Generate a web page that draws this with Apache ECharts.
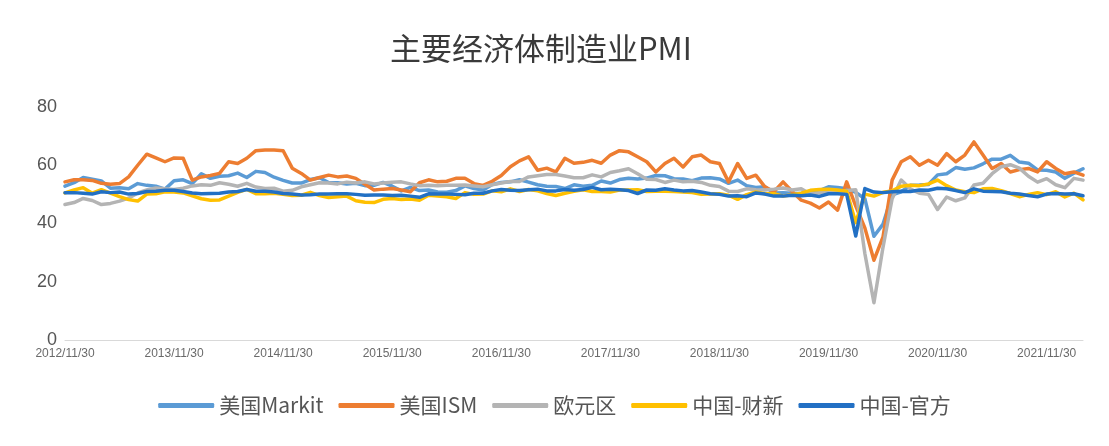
<!DOCTYPE html>
<html>
<head>
<meta charset="utf-8">
<script src="https://cdn.jsdelivr.net/npm/echarts@6/dist/echarts.min.js"></script>
<style>
html,body{margin:0;padding:0;background:#fff;}
#c{width:1109px;height:446px;}
</style>
</head>
<body>
<div id="c"></div>
<script>
// Monthly categories: month-end dates from 2012/11 to 2022/03
const startYear = 2012, startMonth = 11, monthCount = 113;
const categories = [];
for (let k = 0; k < monthCount; k++) {
  const m0 = startMonth - 1 + k;
  const y = startYear + Math.floor(m0 / 12);
  const m = (m0 % 12) + 1;
  const d = new Date(y, m, 0).getDate();
  categories.push(y + '/' + m + '/' + d);
}

const seriesNames = ['美国Markit', '美国ISM', '欧元区', '中国-财新', '中国-官方'];

const usMarkit = [
  52.8, 54.0,
  55.8, 55.2, 54.6, 52.1, 52.3, 51.9, 53.7, 53.1, 52.8, 51.8, 54.7, 55.0,
  53.7, 57.1, 55.5, 56.2, 56.4, 57.3, 55.8, 57.9, 57.5, 55.9, 54.8, 53.9,
  53.9, 55.1, 55.7, 54.1, 54.0, 53.6, 53.8, 53.0, 53.1, 54.1, 52.8, 51.2,
  52.4, 51.3, 51.5, 50.8, 50.7, 51.3, 52.9, 52.0, 51.5, 53.4, 54.1, 54.3,
  55.0, 54.2, 53.3, 52.8, 52.7, 52.0, 53.3, 52.8, 53.1, 54.6, 53.9, 55.1,
  55.5, 55.3, 55.6, 56.5, 56.4, 55.4, 55.3, 54.7, 55.6, 55.7, 55.3, 53.8,
  54.9, 53.0, 52.4, 52.6, 50.5, 50.6, 50.4, 50.3, 51.1, 51.3, 52.6, 52.4,
  51.9, 50.7, 48.5, 35.6, 39.8, 49.8, 50.9, 53.1, 53.2, 53.4, 56.7, 57.1,
  59.2, 58.6, 59.1, 60.5, 62.1, 62.1, 63.4, 61.1, 60.7, 58.4, 58.3, 57.7,
  55.5, 57.3, 58.8
];

const usISM = [
  54.3, 55.0,
  55.0, 54.8, 53.8, 53.5, 53.7, 56.0, 60.0, 63.8, 62.5, 61.2, 62.5, 62.4,
  54.9, 56.0, 56.5, 57.2, 61.2, 60.6, 62.4, 65.0, 65.2, 65.2, 65.0, 59.0,
  57.2, 54.9, 55.8, 56.6, 56.0, 56.3, 55.5, 53.5, 51.5, 51.8, 52.0, 51.5,
  50.9, 54.0, 55.0, 54.3, 54.5, 55.5, 55.5, 53.7, 53.1, 54.5, 56.5, 59.5,
  61.5, 62.9, 58.3, 59.0, 57.7, 62.4, 60.7, 61.0, 61.7, 60.7, 63.5, 65.0,
  64.6, 62.9, 61.2, 57.7, 60.6, 62.4, 59.4, 62.9, 63.5, 61.2, 60.6, 54.3,
  60.6, 55.5, 56.6, 52.6, 50.9, 54.3, 51.0, 48.0, 47.0, 45.3, 47.4, 44.6,
  54.3, 46.0, 38.5, 27.4, 35.4, 54.9, 61.2, 62.9, 60.0, 61.7, 60.0, 64.0,
  61.2, 63.5, 68.0, 63.5, 58.9, 60.6, 57.7, 58.5, 58.9, 57.7, 61.2, 58.9,
  57.1, 57.7, 56.6
];

const euroArea = [
  46.5, 47.2,
  48.6, 47.9, 46.5, 46.9, 47.7, 48.7, 50.5, 51.5, 52.2, 51.9, 51.7, 52.1,
  52.9, 53.3, 53.1, 54.0, 53.5, 52.8, 53.8, 52.5, 52.0, 52.1, 51.1, 51.4,
  52.6, 53.3, 54.0, 53.9, 53.6, 54.2, 53.9, 54.3, 53.6, 53.9, 54.2, 54.3,
  53.6, 53.0, 53.1, 53.0, 53.1, 53.1, 53.2, 52.9, 52.6, 53.3, 53.9, 54.4,
  54.4, 56.0, 56.4, 56.8, 56.8, 56.3, 55.7, 55.7, 56.7, 56.0, 57.5, 58.1,
  58.8, 57.1, 55.2, 55.1, 54.1, 54.9, 54.3, 54.5, 54.1, 53.1, 52.7, 51.1,
  51.0, 51.9, 51.6, 51.5, 51.8, 52.2, 51.5, 51.9, 50.1, 50.6, 50.6, 50.9,
  51.3, 51.6, 29.7, 12.8, 31.9, 48.5, 54.9, 51.9, 50.4, 50.0, 44.8, 49.1,
  47.8, 48.8, 53.2, 53.8, 57.1, 59.5, 60.2, 59.0, 56.2, 54.2, 55.4, 53.3,
  52.3, 55.5, 54.9
];

const chinaCaixin = [
  50.5, 51.5,
  52.3, 50.4, 51.6, 50.4, 49.2, 48.2, 47.7, 50.1, 50.2, 50.9, 50.8, 50.5,
  49.5, 48.5, 48.0, 48.1, 49.4, 50.7, 51.7, 50.2, 50.2, 50.4, 50.0, 49.6,
  49.7, 50.7, 49.6, 48.9, 49.2, 49.4, 47.8, 47.3, 47.2, 48.3, 48.6, 48.2,
  48.4, 48.0, 49.7, 49.4, 49.2, 48.6, 50.6, 50.0, 50.1, 51.2, 50.9, 51.9,
  51.0, 51.7, 51.2, 50.3, 49.6, 50.4, 51.1, 51.6, 51.0, 51.0, 50.8, 51.5,
  51.5, 51.6, 51.0, 51.1, 51.1, 51.0, 50.8, 50.6, 50.0, 50.1, 50.2, 49.7,
  48.3, 49.9, 50.8, 50.2, 50.2, 49.4, 49.9, 50.4, 51.4, 51.7, 51.8, 51.5,
  51.1, 40.3, 50.1, 49.4, 50.7, 51.2, 52.8, 53.1, 53.0, 53.6, 54.9, 53.0,
  51.5, 50.9, 50.6, 51.9, 52.0, 51.3, 50.3, 49.2, 50.0, 50.6, 49.9, 50.9,
  49.1, 50.4, 48.1
];

const chinaOfficial = [
  50.6, 50.6,
  50.4, 50.1, 50.9, 50.6, 50.8, 50.1, 50.3, 51.0, 51.1, 51.4, 51.4, 51.0,
  50.5, 50.2, 50.3, 50.4, 50.8, 51.0, 51.7, 51.1, 51.1, 50.8, 50.3, 50.1,
  49.8, 49.9, 50.1, 50.1, 50.2, 50.2, 50.0, 49.7, 49.8, 49.8, 49.6, 49.7,
  49.4, 49.0, 50.2, 50.1, 50.1, 50.0, 49.9, 50.4, 50.4, 51.2, 51.7, 51.4,
  51.3, 51.6, 51.8, 51.2, 51.2, 51.7, 51.4, 51.7, 52.4, 51.6, 51.8, 51.6,
  51.3, 50.3, 51.5, 51.4, 51.9, 51.5, 51.2, 51.3, 50.8, 50.2, 50.0, 49.4,
  49.5, 49.2, 50.5, 50.1, 49.4, 49.4, 49.7, 49.5, 49.8, 49.3, 50.2, 50.2,
  50.0, 35.7, 52.0, 50.8, 50.6, 50.9, 51.1, 51.0, 51.5, 51.4, 52.1, 51.9,
  51.3, 50.6, 51.9, 51.1, 51.0, 50.9, 50.4, 50.1, 49.6, 49.2, 50.1, 50.3,
  50.1, 50.2, 49.5
];

const yTicks = [0, 20, 40, 60, 80];
const colors = ['#5B9BD5', '#ED7D31', '#B4B4B4', '#FFC000', '#2270C4'];
const allData = [usMarkit, usISM, euroArea, chinaCaixin, chinaOfficial];

const chart = echarts.init(document.getElementById('c'), null, {renderer: 'canvas'});
chart.setOption({
  animation: false,
  backgroundColor: '#ffffff',
  color: colors,
  title: {
    text: '主要经济体制造业PMI',
    left: 385,
    top: 28,
    textStyle: {
      fontFamily: 'Noto Sans CJK SC',
      fontSize: 31,
      fontWeight: 'normal',
      color: '#3a3a3a'
    }
  },
  legend: {
    data: seriesNames,
    bottom: 25,
    left: 'center',
    icon: 'roundRect',
    itemWidth: 56,
    itemHeight: 5,
    itemGap: 15,
    textStyle: {
      fontFamily: 'Noto Sans CJK SC',
      fontSize: 21,
      color: '#555555'
    }
  },
  grid: {
    left: 65,
    right: 26,
    top: 107,
    bottom: 106,
    containLabel: false
  },
  xAxis: {
    type: 'category',
    data: categories,
    boundaryGap: false,
    axisLine: {show: true, lineStyle: {color: '#d9d9d9', width: 1}},
    axisTick: {show: false},
    axisLabel: {
      interval: 11,
      color: '#6a6a6a',
      fontSize: 12,
      fontFamily: 'Liberation Sans',
      margin: 8
    },
    splitLine: {show: false}
  },
  yAxis: {
    type: 'value',
    min: yTicks[0],
    max: yTicks[yTicks.length - 1],
    interval: 20,
    axisLine: {show: false},
    axisTick: {show: false},
    splitLine: {show: false},
    axisLabel: {
      color: '#555555',
      fontSize: 18,
      fontFamily: 'Liberation Sans',
      margin: 8
    }
  },
  series: seriesNames.map((name, i) => ({
    name: name,
    type: 'line',
    data: allData[i],
    showSymbol: false,
    symbol: 'none',
    smooth: false,
    lineStyle: {width: 3.5, color: colors[i], cap: 'round', join: 'round'},
    itemStyle: {color: colors[i]}
  }))
});
</script>
</body>
</html>
